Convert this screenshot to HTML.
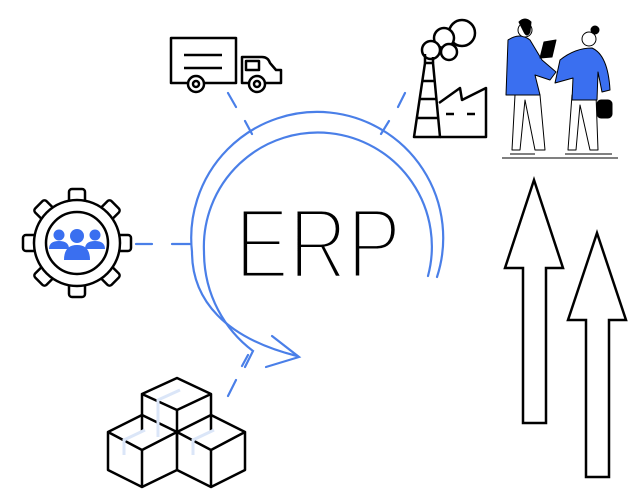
<!DOCTYPE html>
<html><head><meta charset="utf-8"><style>
html,body{margin:0;padding:0;background:#fff;}
svg{display:block}
</style></head><body>
<svg width="644" height="500" viewBox="0 0 644 500" xmlns="http://www.w3.org/2000/svg">
<rect width="644" height="500" fill="#fff"/>
<!-- arcs -->
<g fill="none" stroke="#4a7fe8" stroke-width="2.2" stroke-linecap="round">
<path d="M437 277 A126 126 0 1 0 192 252 C192 300 225 338 297 356"/>
<path d="M428 276 A114 114 0 1 0 204 252 C204 295 225 330 253 351 L245 367"/>
<path d="M272 336 L299 357 L266 367"/>
<!-- dashes -->
<path d="M228 93 L236 107 M245 121 L252 134"/>
<path d="M405 93 L398 107 M389 121 L381 134"/>
<path d="M136 244 L152 244 M172 244 L190 244"/>
<path d="M248 355 L242 366 M236 380 L228 396"/>
</g>
<text x="318" y="278" text-anchor="middle" font-family="Liberation Sans, sans-serif" font-size="100" fill="#000" stroke="#fff" stroke-width="5" textLength="166" lengthAdjust="spacingAndGlyphs">ERP</text>
<!-- truck -->
<g fill="none" stroke="#000" stroke-width="2.5" stroke-linejoin="round">
<path d="M171 38 H236 V83 H171 Z"/>
<path d="M184 55 H222 M184 68 H222"/>
<path d="M242 83 V57 H262 Q268 57 270 63 L276 70 H281 V83 Z"/>
<path d="M246 61 H259 V70 H246 Z M259 61 V70"/>
<circle cx="196" cy="84" r="8" fill="#fff"/><circle cx="196" cy="84" r="3"/>
<circle cx="257" cy="84" r="8" fill="#fff"/><circle cx="257" cy="84" r="3"/>
</g>
<!-- factory -->
<g fill="none" stroke="#000" stroke-width="2.5" stroke-linejoin="round">
<path d="M414 137 L425 63 H433 L440 137 Z"/>
<path d="M422 81 H434 M420 99 H436 M418 118 H437"/>
<path d="M440 137 H486 V88 L462 100 L460 88 L439 103"/>
<path d="M446 114 H454 M467 114 H475"/>
<circle cx="462" cy="33" r="13" fill="#fff"/>
<circle cx="444" cy="38" r="10" fill="#fff"/>
<circle cx="449" cy="52" r="8" fill="#fff"/>
<circle cx="431" cy="50" r="9" fill="#fff"/>
<path d="M425 63 V54 M433 63 V57"/>
</g>
<!-- people -->
<g stroke="#000" stroke-width="1" stroke-linejoin="round">
<path d="M515 95 L512 150 L520 150 L525 100 L535 150 L545 150 L540 95 Z" fill="#fff"/>
<path d="M572 95 L568 150 L576 150 L580 105 L590 150 L598 150 L596 95 Z" fill="#fff"/>
<path d="M508 40 Q520 32 530 40 L542 60 L556 72 L550 80 L535 75 L540 95 H506 Z" fill="#3a6ff0"/>
<path d="M560 60 Q575 48 592 48 Q608 55 610 90 L602 92 L598 72 L597 100 H572 L573 78 L555 83 Z" fill="#3a6ff0"/>
<circle cx="525" cy="30" r="7" fill="#fff"/>
<path d="M519 22 Q525 16 531 22 L530 32 Q527 38 524 32 Z" fill="#000"/>
<circle cx="589" cy="39" r="7" fill="#fff"/>
<circle cx="595" cy="30" r="4" fill="#000"/>
<path d="M544 42 L556 40 L552 57 L540 58 Z" fill="#000"/>
<rect x="597" y="100" width="15" height="18" rx="4" fill="#000"/>
<path d="M510 154 H535 M565 154 H612" fill="none"/>
<path d="M502 158 H618" fill="none"/>
</g>
<!-- gear -->
<g stroke="#000" stroke-width="2.5" fill="#fff" stroke-linejoin="round">
<g transform="translate(77 243)">
<rect x="-8" y="-54" width="16" height="22" rx="3"/>
<rect x="-8" y="-54" width="16" height="22" rx="3" transform="rotate(45)"/>
<rect x="-8" y="-54" width="16" height="22" rx="3" transform="rotate(90)"/>
<rect x="-8" y="-54" width="16" height="22" rx="3" transform="rotate(135)"/>
<rect x="-8" y="-54" width="16" height="22" rx="3" transform="rotate(180)"/>
<rect x="-8" y="-54" width="16" height="22" rx="3" transform="rotate(225)"/>
<rect x="-8" y="-54" width="16" height="22" rx="3" transform="rotate(270)"/>
<rect x="-8" y="-54" width="16" height="22" rx="3" transform="rotate(315)"/>
<circle r="43"/>
<circle r="41.5" stroke="none"/>
<circle r="31"/>
<g fill="#3a6ff0" stroke="none">
<circle cx="-18" cy="-8" r="5.5"/><path d="M-28 6 Q-28 -2 -18 -2 Q-8 -2 -8 6 Z"/>
<circle cx="18" cy="-8" r="5.5"/><path d="M8 6 Q8 -2 18 -2 Q28 -2 28 6 Z"/>
<circle cx="0" cy="-7" r="7"/><path d="M-13 17 Q-13 2 0 2 Q13 2 13 17 Z"/>
</g>
</g>
</g>
<!-- boxes -->
<g stroke="#000" stroke-width="2.5" fill="none" stroke-linejoin="round">
<path d="M142 394 L142 432 M142 394 L177 410 L211 394 L177 378 Z M177 410 V450 M211 394 V432"/>
<path d="M108 432 L142 415 L177 432 L142 450 Z M108 432 V470 L142 487 V450 M142 487 L177 470 V432"/>
<path d="M177 432 L211 415 L245 432 L211 450 Z M211 450 V487 L245 470 V432 M211 487 L177 470"/>
</g>
<g stroke="#dbe6f8" stroke-width="3" fill="none">
<path d="M158 437 V400 L180 390"/><path d="M124 455 V440 L145 430"/><path d="M193 455 V440 L214 430"/>
</g>
<!-- arrows -->
<g fill="#fff" stroke="#000" stroke-width="2.5" stroke-linejoin="miter">
<path d="M534 180 L563 268 L546 268 L546 423 L523 423 L523 268 L505 268 Z"/>
<path d="M597 233 L626 320 L609 320 L609 477 L586 477 L586 320 L568 320 Z"/>
</g>
</svg>
</body></html>
